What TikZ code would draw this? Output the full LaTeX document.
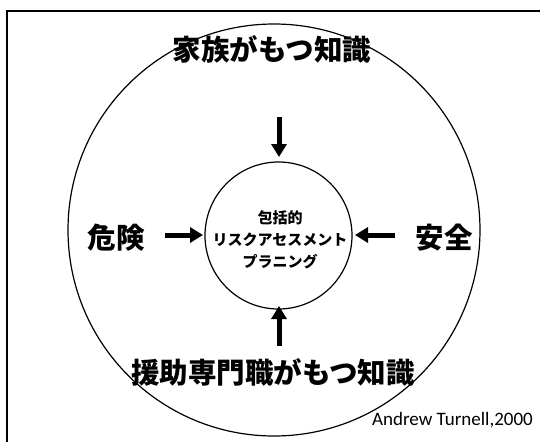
\documentclass[tikz,border=0pt]{standalone}
\usepackage{fontspec}
\newfontfamily\jp{Noto Sans CJK JP}
\newfontfamily\lat{Carlito}
\usetikzlibrary{arrows.meta}
\tikzset{
  ring/.style={circle, draw, line width=1.2pt, inner sep=0pt},
  bigtext/.style={font=\jp\bfseries\fontsize{28.5}{32}\selectfont, inner sep=0pt},
  smalltext/.style={font=\jp\bfseries\fontsize{15}{22}\selectfont, align=center, inner sep=0pt},
  bigarrow/.style={line width=5pt, -{Triangle[length=13pt,width=15pt]}},
}
\begin{document}
\begin{tikzpicture}[x=1pt,y=-1pt]
\useasboundingbox (0,0) rectangle (540,442);
% frame
\draw[line width=2pt] (7,442) -- (7,11) -- (540,11);
% circles
\node[ring, minimum size=412pt] (outer) at (274,230) {};
\node[ring, minimum size=147pt] (inner) at (278.5,235.5) {};
% texts
\node[smalltext] (core) at (280,240) {包括的\\リスクアセスメント\\プラニング};
\node[bigtext] (family) at (272,49) {家族がもつ知識};
\node[bigtext] (danger) at (116,238) {危険};
\node[bigtext] (safety) at (444,238) {安全};
\node[bigtext] (pro) at (273,372) {援助専門職がもつ知識};
\node[font=\lat\fontsize{19}{21}\selectfont, anchor=base east, inner sep=0pt] (cite) at (533,425) {Andrew Turnell,2000};
% arrow ends
\coordinate (t1) at (279,117);
\coordinate (t2) at (279,157);
\coordinate (b1) at (279,346);
\coordinate (b2) at (279,306);
\coordinate (l1) at (165,235);
\coordinate (l2) at (203,235);
\coordinate (r1) at (395,235);
\coordinate (r2) at (355,235);
\draw[bigarrow] (t1) -- (t2);
\draw[bigarrow] (b1) -- (b2);
\draw[bigarrow] (l1) -- (l2);
\draw[bigarrow] (r1) -- (r2);
\end{tikzpicture}
\end{document}
